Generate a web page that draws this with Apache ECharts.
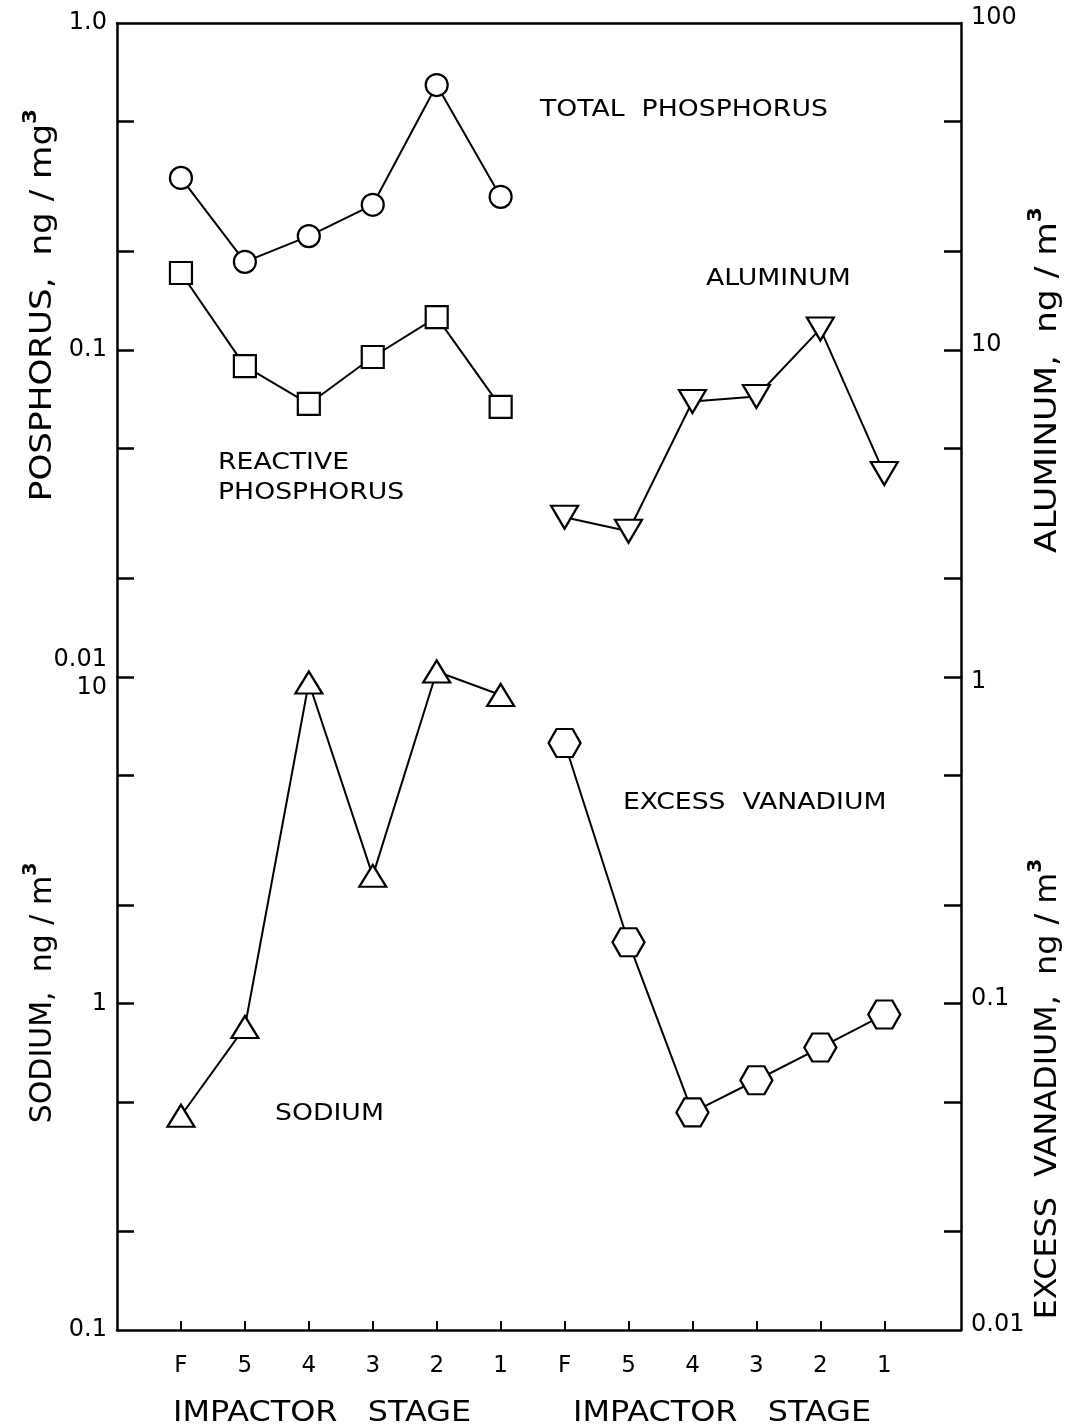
<!DOCTYPE html>
<html>
<head>
<meta charset="utf-8">
<script src="https://cdn.jsdelivr.net/npm/echarts@6/dist/echarts.min.js"></script>
<style>
  html, body { margin: 0; padding: 0; background: #ffffff; }
  #chart { width: 1070px; height: 1428px; }
</style>
</head>
<body>
<div id="chart"></div>
<script>
// Impactor stages, left panel then right panel
const stageLabels = ['F', '5', '4', '3', '2', '1', 'F', '5', '4', '3', '2', '1'];
const stagePos = [1, 2, 3, 4, 5, 6, 7, 8, 9, 10, 11, 12];
const leftPos = stagePos.slice(0, 6);
const rightPos = stagePos.slice(6);

// Concentrations per stage (F, 5, 4, 3, 2, 1)
const totalPhosphorus = [0.336, 0.186, 0.223, 0.278, 0.646, 0.294];     // ng/mg3
const reactivePhosphorus = [0.172, 0.0893, 0.0684, 0.0952, 0.126, 0.0670]; // ng/mg3
const aluminum = [3.08, 2.79, 6.96, 7.21, 11.6, 4.19];                 // ng/m3
const sodium = [0.453, 0.847, 9.62, 2.46, 10.4, 8.81];                 // ng/m3
const excessVanadium = [0.628, 0.154, 0.0464, 0.0582, 0.0733, 0.0925]; // ng/m3

// Tick marks on the four log axes
const phosphorusTicks = [0.01, 0.02, 0.05, 0.1, 0.2, 0.5];
const aluminumTicks = [1, 2, 5, 10, 20, 50];
const sodiumTicks = [0.2, 0.5, 1, 2, 5];
const vanadiumTicks = [0.02, 0.05, 0.1, 0.2, 0.5];

const FONT = 'DejaVu Sans';
const INK = '#000000';

const pairs = (xs, ys) => xs.map((x, i) => [x, ys[i]]);
const decade = v => Math.round(Math.log10(v));

const axisLineStyle = { show: true, lineStyle: { color: INK, width: 2.5 } };
const labelBase = { color: INK, fontFamily: FONT, fontSize: 24 };

// rich tokens that nudge a tick label above or below its tick
const tok = pad => ({ fontFamily: FONT, fontSize: 24, color: INK, padding: pad });
const nudges = {
  up: tok([0, 0, 10, 0]),
  dn: tok([10, 0, 0, 0]),
  lo: tok([0, 0, 34, 0]),
  hi: tok([22, 0, 0, 0])
};

function logAxis(grid, position, min, max, ticks, fmt) {
  return {
    type: 'log',
    gridIndex: grid,
    position: position,
    min: min,
    max: max,
    logBase: 10,
    axisLine: axisLineStyle,
    axisTick: { show: true, inside: true, length: 17, customValues: ticks, lineStyle: { color: INK, width: 2.5 } },
    axisLabel: Object.assign({ margin: 10, formatter: fmt, rich: nudges }, labelBase),
    splitLine: { show: false },
    minorTick: { show: false }
  };
}

function hollow(symbol, size, rotate) {
  return {
    symbol: symbol,
    symbolSize: size,
    symbolRotate: rotate || 0,
    showAllSymbol: true,
    clip: false,
    itemStyle: { color: '#ffffff', borderColor: INK, borderWidth: 2.2 },
    lineStyle: { color: INK, width: 2 },
    emphasis: { disabled: true }
  };
}

const hexagon = 'path://M0,0.866L0.5,0L1.5,0L2,0.866L1.5,1.732L0.5,1.732Z';

function noteText(x, y, text) {
  return {
    type: 'text', x: x, y: y, scaleX: 1.16, silent: true,
    style: { text: text, fill: INK, fontFamily: FONT, fontSize: 23, align: 'left', verticalAlign: 'middle', lineHeight: 30 }
  };
}

function stageTitle(x) {
  return {
    type: 'text', x: x, y: 1413, scaleX: 1.1, silent: true,
    style: { text: 'IMPACTOR   STAGE', fill: INK, fontFamily: FONT, fontSize: 29, align: 'left', verticalAlign: 'middle' }
  };
}

function sideTitle(x, y, stretch, main, sup) {
  return {
    type: 'text', x: x, y: y, rotation: Math.PI / 2, scaleX: stretch, silent: true,
    style: {
      text: '{m|' + main + '}{s|' + sup + '}',
      align: 'center', verticalAlign: 'middle',
      rich: {
        m: { fontFamily: FONT, fontSize: 30, fill: INK, lineHeight: 36, verticalAlign: 'bottom' },
        s: { fontFamily: FONT, fontSize: 19, fontWeight: 'bold', fill: INK, lineHeight: 36, verticalAlign: 'top' }
      }
    }
  };
}

const option = {
  backgroundColor: '#ffffff',
  animation: false,
  grid: [
    { left: 117, width: 844, top: 23, height: 654 },
    { left: 117, width: 844, top: 677, height: 653 }
  ],
  xAxis: [
    {
      type: 'value', gridIndex: 0, position: 'top', min: 0, max: 13.2,
      axisLine: axisLineStyle, axisTick: { show: false }, axisLabel: { show: false }, splitLine: { show: false }
    },
    {
      type: 'value', gridIndex: 1, position: 'bottom', min: 0, max: 13.2,
      axisLine: axisLineStyle,
      axisTick: { show: true, inside: true, length: 9, customValues: stagePos, lineStyle: { color: INK, width: 2 } },
      axisLabel: {
        margin: 25, fontSize: 23, color: INK, fontFamily: FONT, customValues: stagePos,
        formatter: v => stageLabels[Math.round(v) - 1] || ''
      },
      splitLine: { show: false }
    }
  ],
  yAxis: [
    logAxis(0, 'left', 0.01, 1, phosphorusTicks, v => {
      const e = decade(v);
      return e === 0 ? '1.0' : e === -1 ? '0.1' : '{lo|0.01}';
    }),
    logAxis(0, 'right', 1, 100, aluminumTicks, v => {
      const e = decade(v);
      return e === 2 ? '{up|100}' : e === 1 ? '{up|10}' : '';
    }),
    logAxis(1, 'left', 0.1, 10, sodiumTicks, v => {
      const e = decade(v);
      return e === 1 ? '{hi|10}' : e === 0 ? '1' : '0.1';
    }),
    logAxis(1, 'right', 0.01, 1, vanadiumTicks, v => {
      const e = decade(v);
      return e === 0 ? '{dn|1}' : e === -1 ? '{up|0.1}' : '{up|0.01}';
    })
  ],
  series: [
    Object.assign({ name: 'Total phosphorus', type: 'line', xAxisIndex: 0, yAxisIndex: 0,
      data: pairs(leftPos, totalPhosphorus) }, hollow('circle', 22)),
    Object.assign({ name: 'Reactive phosphorus', type: 'line', xAxisIndex: 0, yAxisIndex: 0,
      data: pairs(leftPos, reactivePhosphorus) }, hollow('rect', 22)),
    Object.assign({ name: 'Aluminum', type: 'line', xAxisIndex: 0, yAxisIndex: 1,
      data: pairs(rightPos, aluminum) }, hollow('triangle', [27, 23], 180)),
    Object.assign({ name: 'Sodium', type: 'line', xAxisIndex: 1, yAxisIndex: 2,
      data: pairs(leftPos, sodium) }, hollow('triangle', [27, 22])),
    Object.assign({ name: 'Excess vanadium', type: 'line', xAxisIndex: 1, yAxisIndex: 3,
      data: pairs(rightPos, excessVanadium) }, hollow(hexagon, [32, 28]))
  ],
  graphic: [
    noteText(540, 110, 'TOTAL  PHOSPHORUS'),
    noteText(706, 279, 'ALUMINUM'),
    noteText(218, 478, 'REACTIVE\nPHOSPHORUS'),
    noteText(623, 803, 'EXCESS  VANADIUM'),
    noteText(275, 1114, 'SODIUM'),
    stageTitle(173),
    stageTitle(573),
    sideTitle(40, 305, 1.14, 'POSPHORUS,  ng / mg', '3'),
    sideTitle(40, 993, 1.0, 'SODIUM,  ng / m', '3'),
    sideTitle(1045, 380, 1.15, 'ALUMINUM,  ng / m', '3'),
    sideTitle(1045, 1089, 1.06, 'EXCESS  VANADIUM,  ng / m', '3')
  ]
};

const chart = echarts.init(document.getElementById('chart'), null, { renderer: 'canvas' });
chart.setOption(option);
</script>
</body>
</html>
